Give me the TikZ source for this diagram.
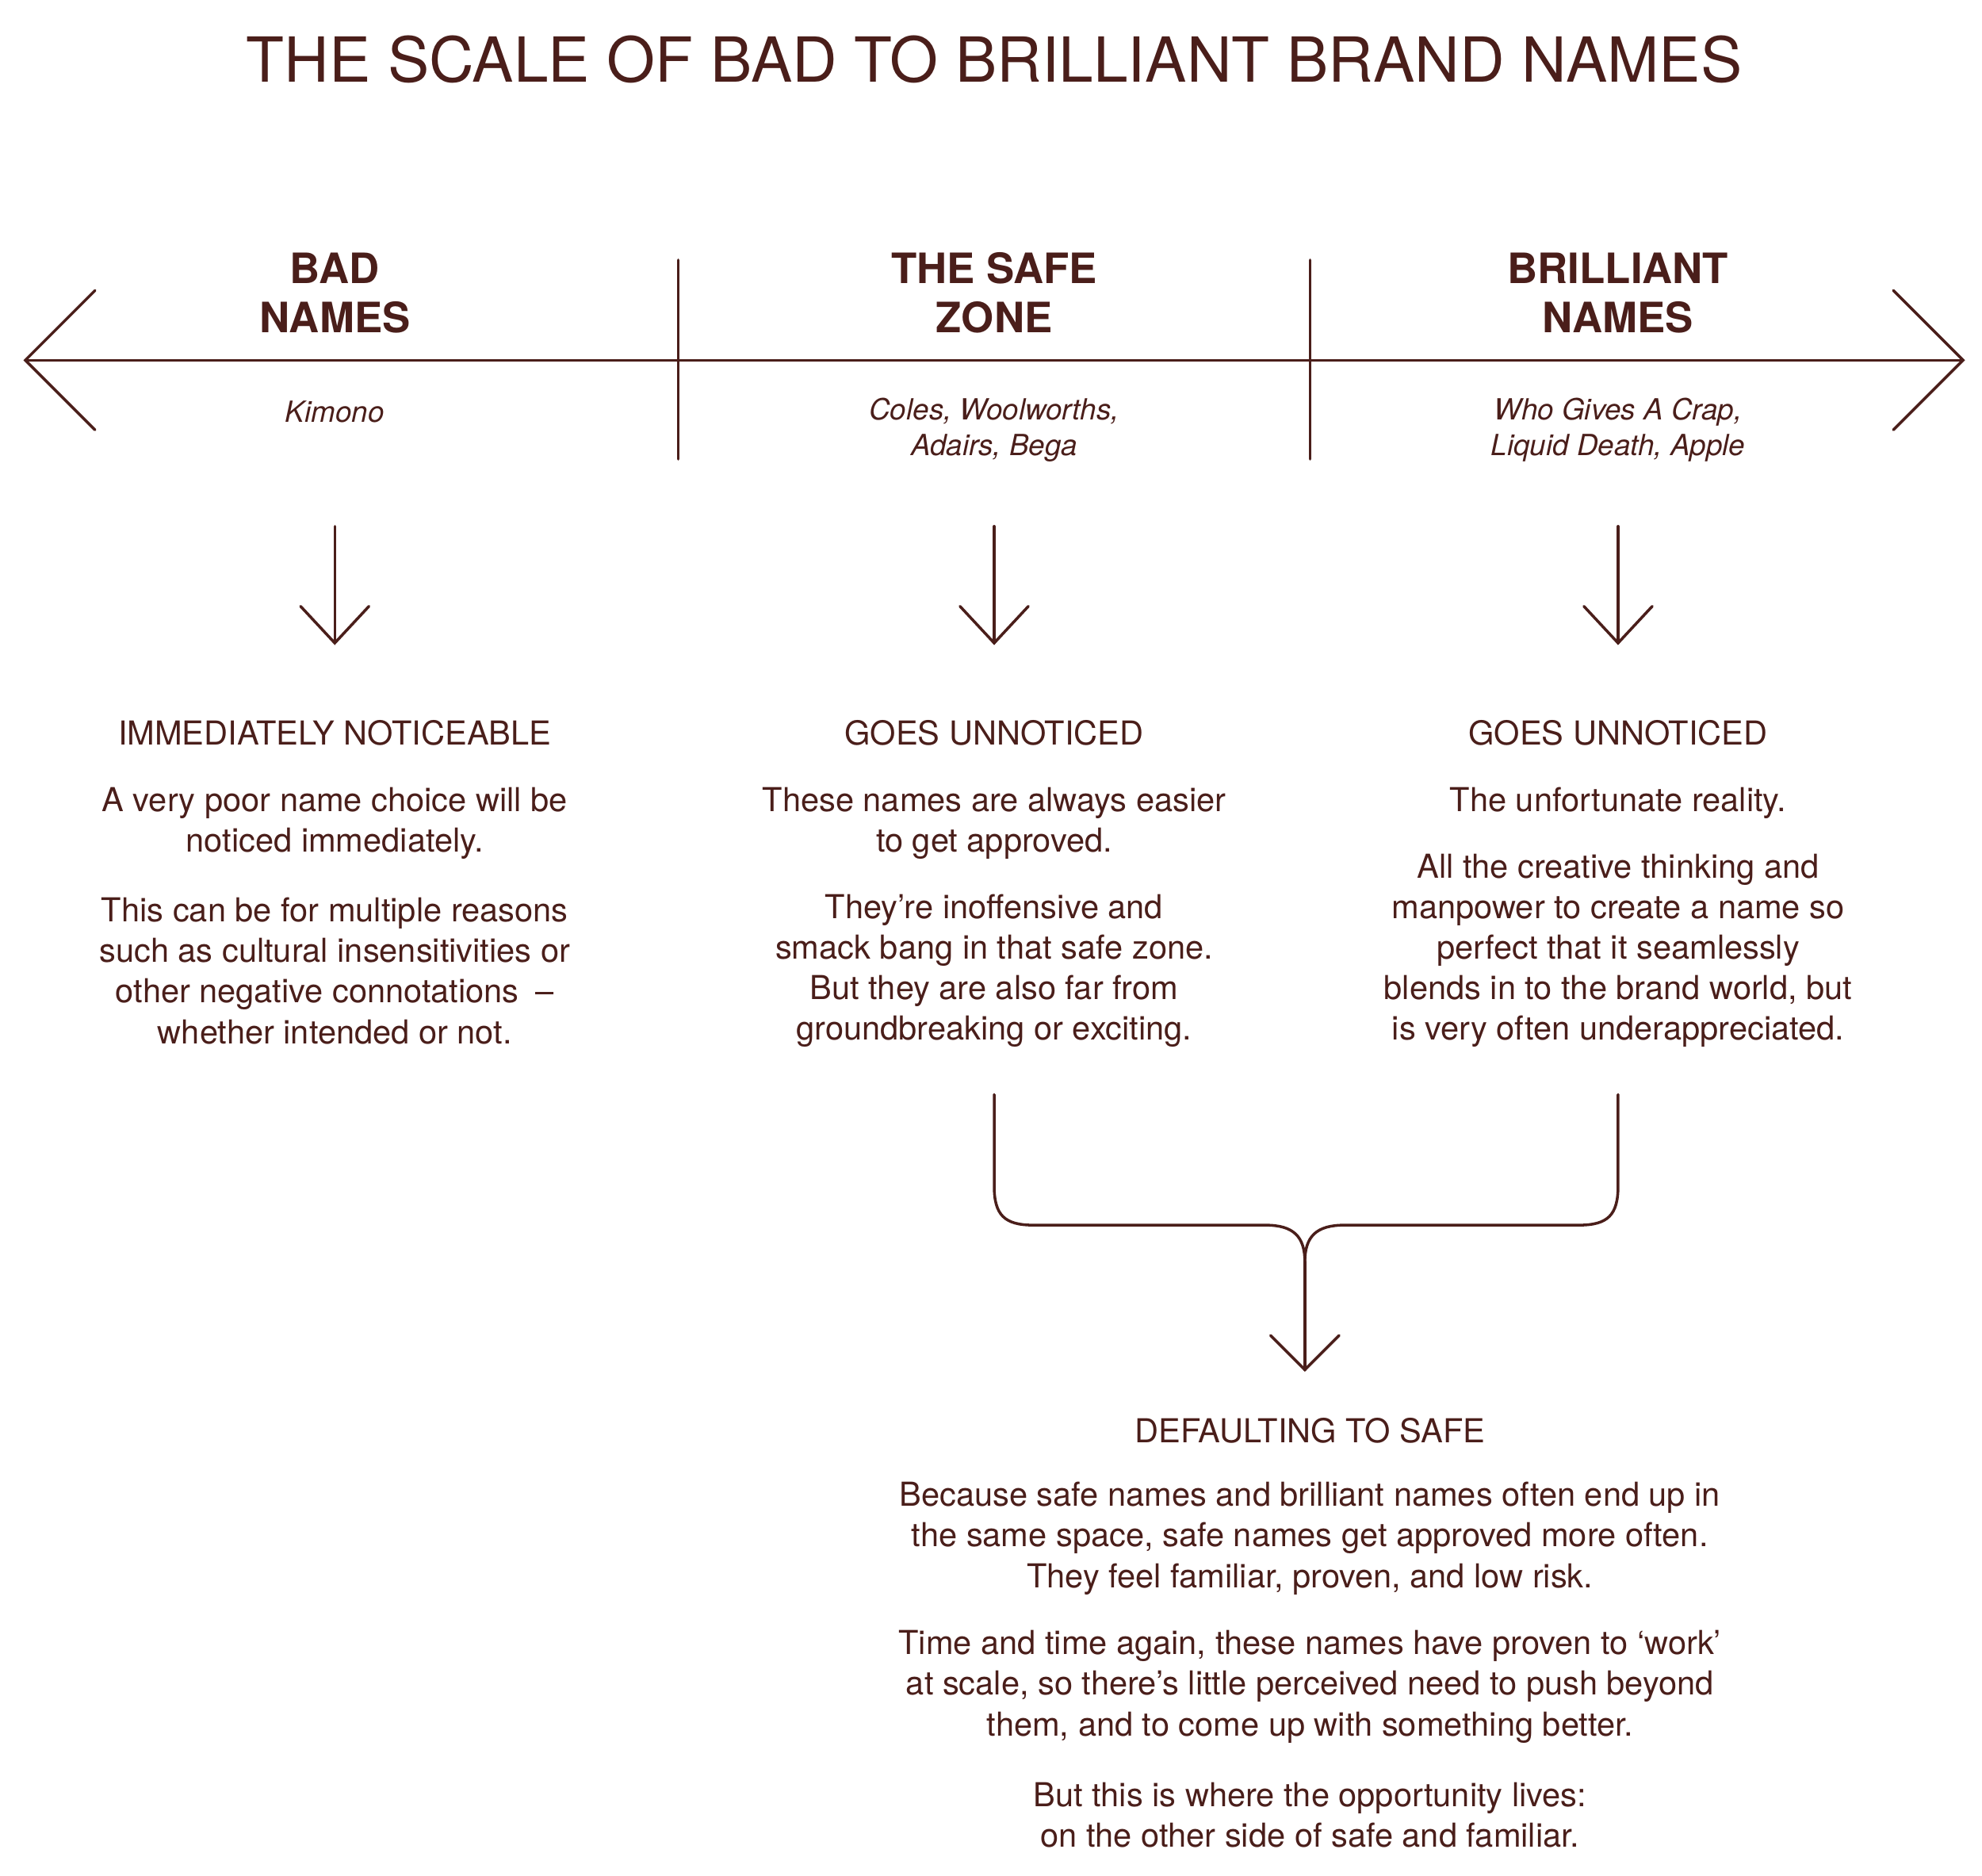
\documentclass[tikz,border=0pt]{standalone}
\usepackage{fontspec}
\setmainfont{TeX Gyre Heros}
\definecolor{ink}{HTML}{4A1E1A}
\begin{document}
\begin{tikzpicture}[x=0.5pt,y=-0.5pt,
  ln/.style={draw=ink,line width=1.1pt,line cap=round,line join=miter},
  ttl/.style={text=ink,font=\fontsize{24.5}{28}\selectfont},
  hd/.style={text=ink,font=\bfseries\fontsize{16.5}{19.5}\selectfont,align=center},
  ex/.style={text=ink,font=\itshape\fontsize{11.5}{14}\selectfont,align=center},
  sub/.style={text=ink,font=\fontsize{13}{16}\selectfont},
  bd/.style={text=ink,font=\fontsize{13}{16}\selectfont,align=center}]
\useasboundingbox (0,0) rectangle (1563,1479);
\node[ttl] (title) at (784,47) {THE SCALE OF BAD TO BRILLIANT BRAND NAMES};
% axis
\coordinate (L) at (20,284); \coordinate (R) at (1548,284);
\coordinate (L1) at (75,229); \coordinate (L2) at (75,339);
\coordinate (R1) at (1493,229); \coordinate (R2) at (1493,339);
\draw[ln] (L) -- (R);
\draw[ln] (L1) -- (L) -- (L2);
\draw[ln] (R1) -- (R) -- (R2);
\coordinate (d1a) at (535,205); \coordinate (d1b) at (535,362);
\coordinate (d2a) at (1033,205); \coordinate (d2b) at (1033,362);
\draw[ln] (d1a) -- (d1b); \draw[ln] (d2a) -- (d2b);
% headings
\node[hd] (h1) at (264,231) {BAD\\NAMES};
\node[hd] (h2) at (784,231) {THE SAFE\\ZONE};
\node[hd] (h3) at (1276,231) {BRILLIANT\\NAMES};
\node[ex] (e1) at (264,325) {Kimono};
\node[ex] (e2) at (784,339) {Coles, Woolworths,\\Adairs, Bega};
\node[ex] (e3) at (1276,339) {Who Gives A Crap,\\Liquid Death, Apple};
% down arrows
\foreach \n/\x in {a/264,b/784,c/1276}{
  \coordinate (\n t) at (\x,415); \coordinate (\n b) at (\x,507);
  \coordinate (\n l) at (\x-27,478); \coordinate (\n r) at (\x+27,478);
  \draw[ln] (\n t) -- (\n b);
  \draw[ln] (\n l) -- (\n b) -- (\n r);
}
% column texts
\node[sub] (s1) at (264,578) {IMMEDIATELY NOTICEABLE};
\node[sub] (s2) at (784,578) {GOES UNNOTICED};
\node[sub] (s3) at (1276,578) {GOES UNNOTICED};
\node[bd] (p1a) at (264,649) {A very poor name choice will be\\noticed immediately.};
\node[bd] (p1b) at (264,765.5) {This can be for multiple reasons\\such as cultural insensitivities or\\other negative connotations\enspace–\\whether intended or not.};
\node[bd] (p2a) at (784,649) {These names are always easier\\to get approved.};
\node[bd] (p2b) at (784,765.5) {They’re inoffensive and\\smack bang in that safe zone.\\But they are also far from\\groundbreaking or exciting.};
\node[bd] (p3a) at (1276,633) {The unfortunate reality.};
\node[bd] (p3b) at (1276,749.5) {All the creative thinking and\\manpower to create a name so\\perfect that it seamlessly\\blends in to the brand world, but\\is very often underappreciated.};
% bracket
\coordinate (bl) at (784,863); \coordinate (br) at (1276,863);
\coordinate (m) at (1029,995); \coordinate (mb) at (1029,1080);
\coordinate (ml) at (1002,1053); \coordinate (mr) at (1056,1053);
\draw[ln] (bl) -- (784,935) .. controls (784,958) and (792,966) .. (815,966)
  -- (998,966) .. controls (1020,966) and (1029,975) .. (m);
\draw[ln] (br) -- (1276,935) .. controls (1276,958) and (1268,966) .. (1245,966)
  -- (1060,966) .. controls (1038,966) and (1029,975) .. (m);
\draw[ln] (m) -- (mb);
\draw[ln] (ml) -- (mb) -- (mr);
% bottom text
\node[sub] (s4) at (1033,1128) {DEFAULTING TO SAFE};
\node[bd] (q1) at (1033,1213) {Because safe names and brilliant names often end up in\\the same space, safe names get approved more often.\\They feel familiar, proven, and low risk.};
\node[bd] (q2) at (1033,1330) {Time and time again, these names have proven to ‘work’\\at scale, so there’s little perceived need to push beyond\\them, and to come up with something better.};
\node[bd] (q3) at (1033,1431) {But this is where the opportunity lives:\\on the other side of safe and familiar.};
\end{tikzpicture}
\end{document}
